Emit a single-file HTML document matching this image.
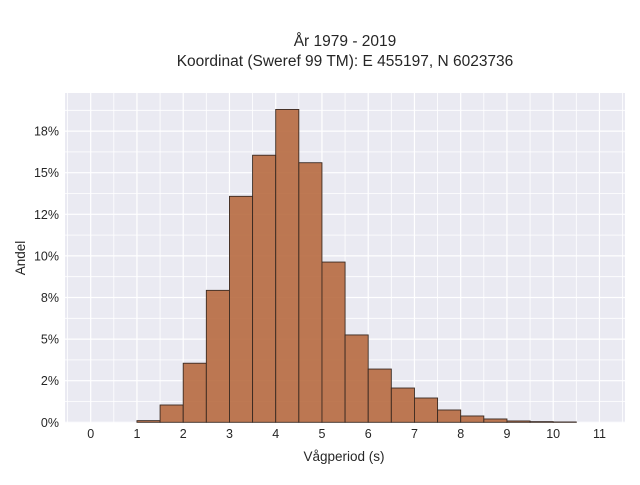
<!DOCTYPE html>
<html><head><meta charset="utf-8"><style>
body{margin:0;background:#fff;width:640px;height:480px;overflow:hidden;font-family:"Liberation Sans",sans-serif;}
text{font-family:"Liberation Sans",sans-serif;fill:#262626;}
</style></head><body>
<svg id="chart" width="640" height="480">
<text x="345" y="46" text-anchor="middle" font-size="15.5">År 1979 - 2019</text>
<text x="345" y="66" text-anchor="middle" font-size="15.5">Koordinat (Sweref 99 TM): E 455197, N 6023736</text>
<rect x="65" y="93" width="560" height="330" fill="#eaeaf2"/>
<g id="grid"></g><g id="bars"></g><g id="ticks"></g>
<text x="344" y="461" text-anchor="middle" font-size="13.5">Vågperiod (s)</text>
<text transform="translate(25,258) rotate(-90)" text-anchor="middle" font-size="13.5">Andel</text>
</svg>
<script>
const binStarts=[1.0,1.5,2.0,2.5,3.0,3.5,4.0,4.5,5.0,5.5,6.0,6.5,7.0,7.5,8.0,8.5,9.0,9.5,10.0];
const shares=[0.1,1.04,3.55,7.93,13.58,16.05,18.8,15.6,9.63,5.25,3.2,2.06,1.46,0.74,0.38,0.2,0.08,0.04,0.02];
const xTicks=[0,1,2,3,4,5,6,7,8,9,10,11];
const yTicks=[0,2.5,5,7.5,10,12.5,15,17.5];
const yTickLabels=["0%","2%","5%","8%","10%","12%","15%","18%"];
const binWidth=0.5;
const X=v=>90.7+v*46.25;
const Y=v=>422.3-v*16.64;
const NS="http://www.w3.org/2000/svg";
function mk(tag,attrs,parent){const e=document.createElementNS(NS,tag);for(const k in attrs)e.setAttribute(k,attrs[k]);parent.appendChild(e);return e;}
const grid=document.getElementById('grid'),bars=document.getElementById('bars'),ticks=document.getElementById('ticks');
for(let v=-0.5;v<=11.5;v+=0.5){const x=X(v);if(x<65||x>625)continue;
 const l=mk('line',{x1:x,x2:x,y1:93,y2:423,stroke:'#fff','stroke-width':Number.isInteger(v)?1.2:0.8},grid);
 
 }
for(let v=0;v<=20;v+=1.25){const y=Y(v);if(y<93)continue;
 const l=mk('line',{x1:65,x2:625,y1:y,y2:y,stroke:'#fff','stroke-width':(v%2.5===0)?1.2:0.8},grid);
 
 }
binStarts.forEach((s,i)=>{const x0=X(s),x1=X(s+binWidth),y=Y(shares[i]);
 const r=mk('rect',{x:x0,y:y,width:x1-x0,height:Y(0)-y,fill:'#b5673b','fill-opacity':0.88,stroke:'#3a2a22','stroke-width':0.9},bars);
 
 });
xTicks.forEach(v=>{const t=mk('text',{x:X(v),y:438,'text-anchor':'middle','font-size':12.5},ticks);t.textContent=v;
 
 });
yTicks.forEach((v,i)=>{const t=mk('text',{x:59,y:Y(v)+4.5,'text-anchor':'end','font-size':12.5},ticks);t.textContent=yTickLabels[i];
 
 });
</script>
</body></html>
